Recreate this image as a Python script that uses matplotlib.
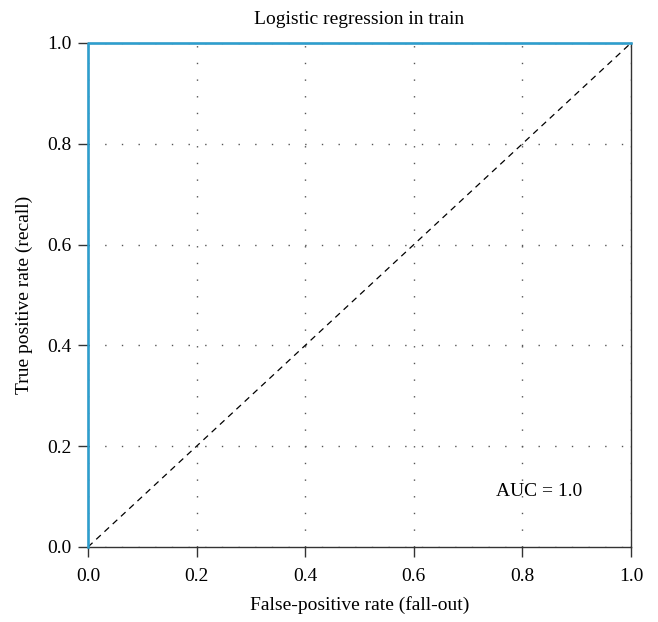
import matplotlib.pyplot as plt

# ROC curve values
fpr = [0.0, 0.0, 1.0]
tpr = [0.0, 1.0, 1.0]
chance = [0.0, 1.0]
auc = 1.0
ticks = [0.0, 0.2, 0.4, 0.6, 0.8, 1.0]

plt.rcParams['font.family'] = ['Liberation Serif', 'DejaVu Serif']

fig = plt.figure(figsize=(6.58, 6.22), dpi=100)
ax = fig.add_axes([0.1337, 0.1206, 0.8253, 0.8103])

ax.plot(chance, chance, color='black', linestyle=(0, (5, 4)), linewidth=0.9)
ax.plot(fpr, tpr, color='#2b9fd0', linewidth=1.8, clip_on=False, zorder=5)

ax.set_xlim(0, 1)
ax.set_ylim(0, 1)
ax.set_xticks(ticks)
ax.set_yticks(ticks)
ax.set_xticklabels([f'{t:.1f}' for t in ticks])
ax.set_yticklabels([f'{t:.1f}' for t in ticks])
ax.tick_params(direction='out', length=7, width=1, labelsize=14, pad=5, color='#333333')
ax.tick_params(axis='x', pad=8)
ax.grid(True, linestyle=(0, (1, 11)), color='#555555', linewidth=1)

for s in ax.spines.values():
    s.set_linewidth(1)
    s.set_color('#333333')

ax.text(0.83, 0.11, f'AUC = {auc}', ha='center', va='center', fontsize=14,
        transform=ax.transAxes)
ax.set_title('Logistic regression in train', fontsize=14, pad=14)
ax.set_xlabel('False-positive rate (fall-out)', fontsize=14, labelpad=8)
ax.set_ylabel('True positive rate (recall)', fontsize=14, labelpad=10)

fig.savefig('out.png', dpi=100)
